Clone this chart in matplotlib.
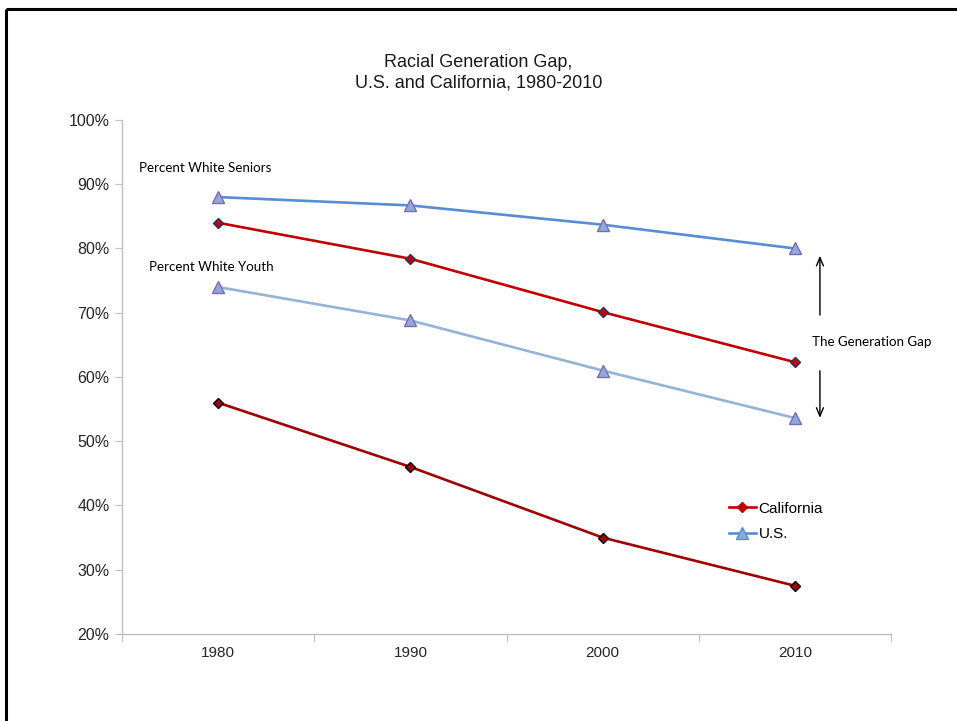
import matplotlib
matplotlib.use("Agg")
import matplotlib.pyplot as plt
from matplotlib.lines import Line2D
from matplotlib.ticker import FixedLocator, PercentFormatter

# Datos (porcentaje de población blanca)
years = ["1980", "1990", "2000", "2010"]
us_seniors = [88.0, 86.7, 83.7, 80.0]
ca_seniors = [84.0, 78.4, 70.1, 62.3]
us_youth = [74.0, 68.8, 61.0, 53.6]
ca_youth = [56.0, 46.0, 35.0, 27.5]

x = list(range(len(years)))

fig = plt.figure(figsize=(9.57, 7.21), dpi=100)
ax = fig.add_axes([0.1275, 0.1207, 0.8036, 0.7129])

# Marco de la diapositiva (izquierda y arriba)
fig.add_artist(Line2D([0.0065, 0.0065], [0, 0.9875], transform=fig.transFigure,
                      color="black", lw=2.2, solid_capstyle="butt"))
fig.add_artist(Line2D([0.0065, 1.0], [0.9875, 0.9875], transform=fig.transFigure,
                      color="black", lw=2.2, solid_capstyle="butt"))

tri_fill = "#8FA8DA"
tri_edge = "#8068B0"

ax.plot(x, us_seniors, color="#558ED5", lw=1.9, marker="^", markersize=8.5,
        markerfacecolor=tri_fill, markeredgecolor=tri_edge, markeredgewidth=1.0)
ax.plot(x, ca_seniors, color="#C00000", lw=1.9, marker="D", markersize=5.5,
        markerfacecolor="#C00000", markeredgecolor="#1F3864", markeredgewidth=1.0)
ax.plot(x, us_youth, color="#95B3D7", lw=1.9, marker="^", markersize=8.5,
        markerfacecolor=tri_fill, markeredgecolor=tri_edge, markeredgewidth=1.0)
ax.plot(x, ca_youth, color="#9E0000", lw=1.9, marker="D", markersize=5.5,
        markerfacecolor="#9E0000", markeredgecolor="black", markeredgewidth=1.0)

ax.set_xlim(-0.5, 3.5)
ax.set_ylim(20, 100)

# Ejes
for s in ["top", "right"]:
    ax.spines[s].set_visible(False)
for s in ["left", "bottom"]:
    ax.spines[s].set_color("#BFBFBF")
    ax.spines[s].set_linewidth(1.0)

ax.set_yticks(range(20, 101, 10))
ax.yaxis.set_major_formatter(PercentFormatter(decimals=0))
ax.tick_params(axis="y", length=5, color="#BFBFBF", labelsize=11.5,
               labelcolor="#262626", pad=4)
for lab in ax.get_yticklabels():
    lab.set_fontfamily("Liberation Sans")

ax.xaxis.set_major_locator(FixedLocator([-0.5, 0.5, 1.5, 2.5, 3.5]))
ax.xaxis.set_major_formatter(plt.NullFormatter())
ax.xaxis.set_minor_locator(FixedLocator(x))
ax.set_xticklabels(years, minor=True)
ax.tick_params(axis="x", which="major", length=5, color="#BFBFBF")
ax.tick_params(axis="x", which="minor", length=0, labelsize=11,
               labelcolor="#262626", pad=9)
for lab in ax.get_xticklabels(minor=True):
    lab.set_fontfamily("Liberation Sans")

# Titulo
fig.text(0.5, 0.899, "Racial Generation Gap,\nU.S. and California, 1980-2010",
         ha="center", va="center", fontsize=13, family="Liberation Sans",
         color="#1a1a1a", linespacing=1.25)

# Anotaciones
ax.text(-0.41, 92.5, "Percent White Seniors", fontsize=9.6, family="Lato",
        va="center", ha="left", color="black")
ax.text(-0.36, 77.1, "Percent White Youth", fontsize=9.6, family="Lato",
        va="center", ha="left", color="black")
ax.text(3.09, 65.4, "The Generation Gap", fontsize=9.6, family="Lato",
        va="center", ha="left", color="black")
ax.annotate("", xy=(3.13, 79.3), xytext=(3.13, 69.2),
            arrowprops=dict(arrowstyle="->,head_length=0.6,head_width=0.25",
                            color="black", lw=1.0))
ax.annotate("", xy=(3.13, 53.2), xytext=(3.13, 61.4),
            arrowprops=dict(arrowstyle="->,head_length=0.6,head_width=0.25",
                            color="black", lw=1.0))

# Leyenda
handles = [
    Line2D([], [], color="#C00000", lw=1.9, marker="D", markersize=5.5,
           markerfacecolor="#C00000", markeredgecolor="#C00000"),
    Line2D([], [], color="#558ED5", lw=1.9, marker="^", markersize=8.5,
           markerfacecolor=tri_fill, markeredgecolor="#558ED5"),
]
leg = ax.legend(handles, ["California", "U.S."], loc="upper left",
                bbox_to_anchor=(0.779, 0.272), frameon=False, borderpad=0,
                handlelength=1.8, handletextpad=0.15, labelspacing=0.75,
                prop={"family": "Liberation Sans", "size": 11})

fig.savefig("out.png", dpi=100, facecolor="white")
